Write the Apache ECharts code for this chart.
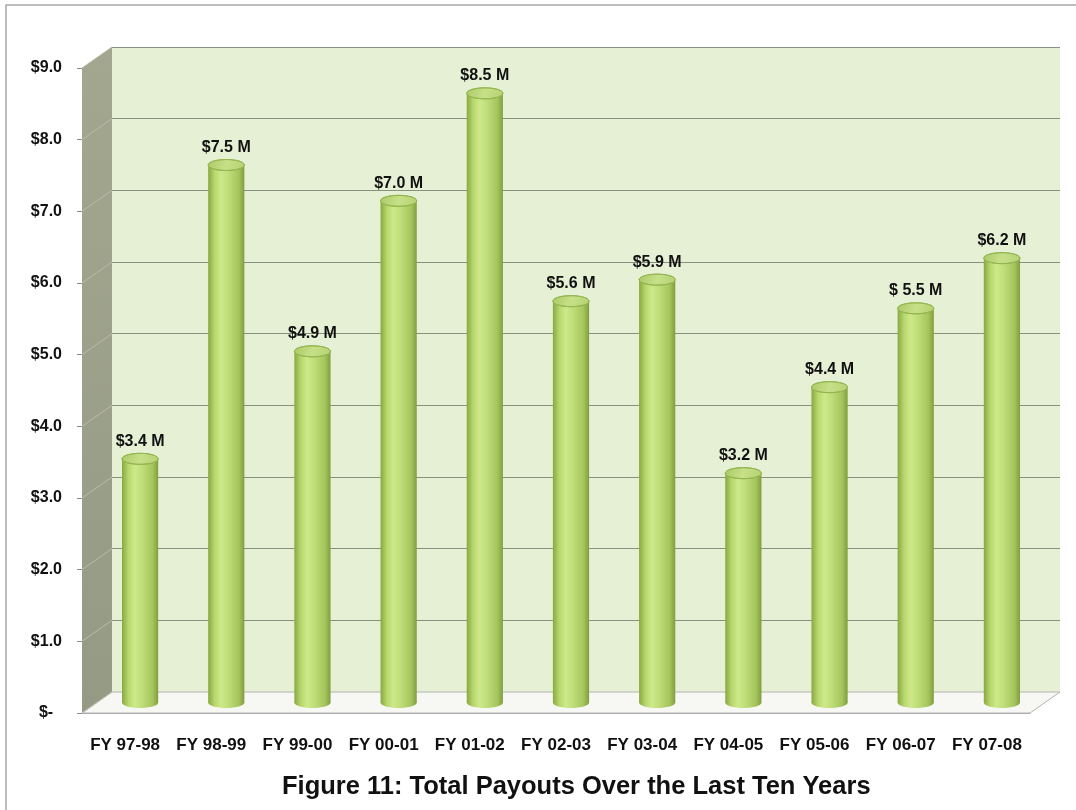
<!DOCTYPE html>
<html>
<head>
    <meta charset="utf-8">
    <script src="https://cdn.jsdelivr.net/npm/echarts@6/dist/echarts.min.js"></script>
</head>
<body style="margin:0;background:#fff">
    <div id="main" style="width:1076px;height:810px"></div>

    <script type="text/javascript">
        // data
        var years = ['FY 97-98', 'FY 98-99', 'FY 99-00', 'FY 00-01', 'FY 01-02', 'FY 02-03',
                     'FY 03-04', 'FY 04-05', 'FY 05-06', 'FY 06-07', 'FY 07-08'];
        var payouts = [3.4, 7.5, 4.9, 7.0, 8.5, 5.6, 5.9, 3.2, 4.4, 5.5, 6.2];
        var payoutLabels = ['$3.4 M', '$7.5 M', '$4.9 M', '$7.0 M', '$8.5 M', '$5.6 M',
                            '$5.9 M', '$3.2 M', '$4.4 M', '$ 5.5 M', '$6.2 M'];
        var yTicks = [0, 1, 2, 3, 4, 5, 6, 7, 8, 9];

        // front edge of the 3d box, and depth offset to the back wall
        var FL = 82, FR = 1030, FT = 68, FB = 713;
        var DX = 30, DY = -21;
        var FONT = '"Liberation Sans", Arial, sans-serif';

        var myChart = echarts.init(document.getElementById('main'));

        var barGrad = new echarts.graphic.LinearGradient(0, 0, 1, 0, [
            {offset: 0, color: '#88a842'},
            {offset: 0.18, color: '#b8d76c'},
            {offset: 0.35, color: '#cde98a'},
            {offset: 0.55, color: '#c0de7a'},
            {offset: 0.85, color: '#a4c45c'},
            {offset: 1, color: '#809e3e'}
        ]);
        var topGrad = new echarts.graphic.LinearGradient(0, 0, 1, 1, [
            {offset: 0, color: '#abc966'},
            {offset: 0.5, color: '#c6e088'},
            {offset: 1, color: '#b4d170'}
        ]);

        function renderCylinder(params, api) {
            var idx = api.value(0);
            var v = api.value(1);
            var top = api.coord([idx, v]);
            var base = api.coord([idx, 0]);
            var w = api.size([1, 0])[0] * 0.42;
            var rx = w / 2, ry = 5.5;
            var cx = top[0];
            return {
                type: 'group',
                children: [
                    {type: 'ellipse', shape: {cx: cx, cy: base[1], rx: rx, ry: ry}, style: {fill: barGrad}},
                    {type: 'rect', shape: {x: cx - rx, y: top[1], width: w, height: base[1] - top[1]}, style: {fill: barGrad}},
                    {type: 'ellipse', shape: {cx: cx, cy: top[1], rx: rx, ry: ry},
                     style: {fill: topGrad, stroke: '#94b650', lineWidth: 1}},
                    {type: 'text', style: {
                        text: payoutLabels[idx], x: cx, y: top[1] - ry - 4,
                        textAlign: 'center', textVerticalAlign: 'bottom',
                        font: 'bold 16px ' + FONT, fill: '#111'
                    }}
                ]
            };
        }

        var hiddenY = {type: 'value', min: 0, max: 9, interval: 1, show: false};

        var option = {
            animation: false,
            title: {
                text: 'Figure 11: Total Payouts Over the Last Ten Years',
                left: 277,
                top: 769,
                textStyle: {fontFamily: FONT, fontSize: 25.5, fontWeight: 'bold', color: '#111'}
            },
            grid: [
                {left: FL, right: 1076 - FR, top: FT, bottom: 810 - FB},
                {left: FL + DX / 2, right: 1076 - FR - DX / 2, top: FT + DY / 2, bottom: 810 - FB - DY / 2},
                {left: FL + DX, right: 1076 - FR - DX, top: FT + DY, bottom: 810 - FB - DY,
                 show: true, backgroundColor: '#e6f0d4', borderWidth: 0}
            ],
            xAxis: [
                {type: 'category', gridIndex: 0, data: years,
                 axisLine: {lineStyle: {color: '#a6a6a6'}},
                 axisTick: {length: 6, lineStyle: {color: '#8c8c8c'}},
                 axisLabel: {margin: 24, color: '#111', fontWeight: 'bold', fontSize: 17,
                             fontFamily: FONT, interval: 0}},
                {type: 'category', gridIndex: 1, data: years, show: false},
                {type: 'category', gridIndex: 2, data: years, show: false}
            ],
            yAxis: [
                {type: 'value', gridIndex: 0, min: 0, max: 9, interval: 1,
                 splitLine: {show: false},
                 axisLine: {show: true, lineStyle: {color: '#a6a6a6'}},
                 axisTick: {show: true, length: 5, lineStyle: {color: '#8c8c8c'}},
                 axisLabel: {margin: 20, color: '#111', fontWeight: 'bold', fontSize: 16,
                             fontFamily: FONT,
                             formatter: function (v) { return v === 0 ? '$-  ' : '$' + v.toFixed(1); }}},
                Object.assign({gridIndex: 1}, hiddenY),
                {type: 'value', gridIndex: 2, min: 0, max: 9, interval: 1,
                 axisLine: {show: false}, axisTick: {show: false}, axisLabel: {show: false},
                 splitLine: {show: true, lineStyle: {color: '#86917f', width: 1}}}
            ],
            series: [{
                type: 'custom',
                xAxisIndex: 1,
                yAxisIndex: 1,
                renderItem: renderCylinder,
                data: payouts.map(function (v, i) { return [i, v]; }),
                z: 5
            }]
        };
        myChart.setOption(option);

        // side wall, floor and the wall gridlines, placed from the two y axes
        var yf = function (v) { return myChart.convertToPixel({yAxisIndex: 0}, v); };
        var yb = function (v) { return myChart.convertToPixel({yAxisIndex: 2}, v); };
        var walls = [
            {type: 'rect', shape: {x: 6, y: 5, width: 1200, height: 1000}, z: 0,
             style: {fill: 'none', stroke: '#a8a8a8', lineWidth: 1.5}},
            {type: 'polygon', z: 1,
             shape: {points: [[FL, yf(9)], [FL + DX, yb(9)], [FL + DX, yb(0)], [FL, yf(0)]]},
             style: {fill: new echarts.graphic.LinearGradient(0, 0, 0, 1, [
                 {offset: 0, color: '#a3a78f'}, {offset: 1, color: '#959a85'}])}},
            {type: 'polygon', z: 1,
             shape: {points: [[FL, yf(0)], [FL + DX, yb(0)], [FR + DX, yb(0)], [FR, yf(0)]]},
             style: {fill: '#f7f8f3', stroke: '#b4b4b4', lineWidth: 1}}
        ];
        yTicks.forEach(function (t) {
            walls.push({type: 'line', z: 2,
                shape: {x1: FL, y1: yf(t), x2: FL + DX, y2: yb(t)},
                style: {stroke: '#b9bcab', lineWidth: 1}});
        });
        myChart.setOption({graphic: walls});
    </script>
</body>
</html>
